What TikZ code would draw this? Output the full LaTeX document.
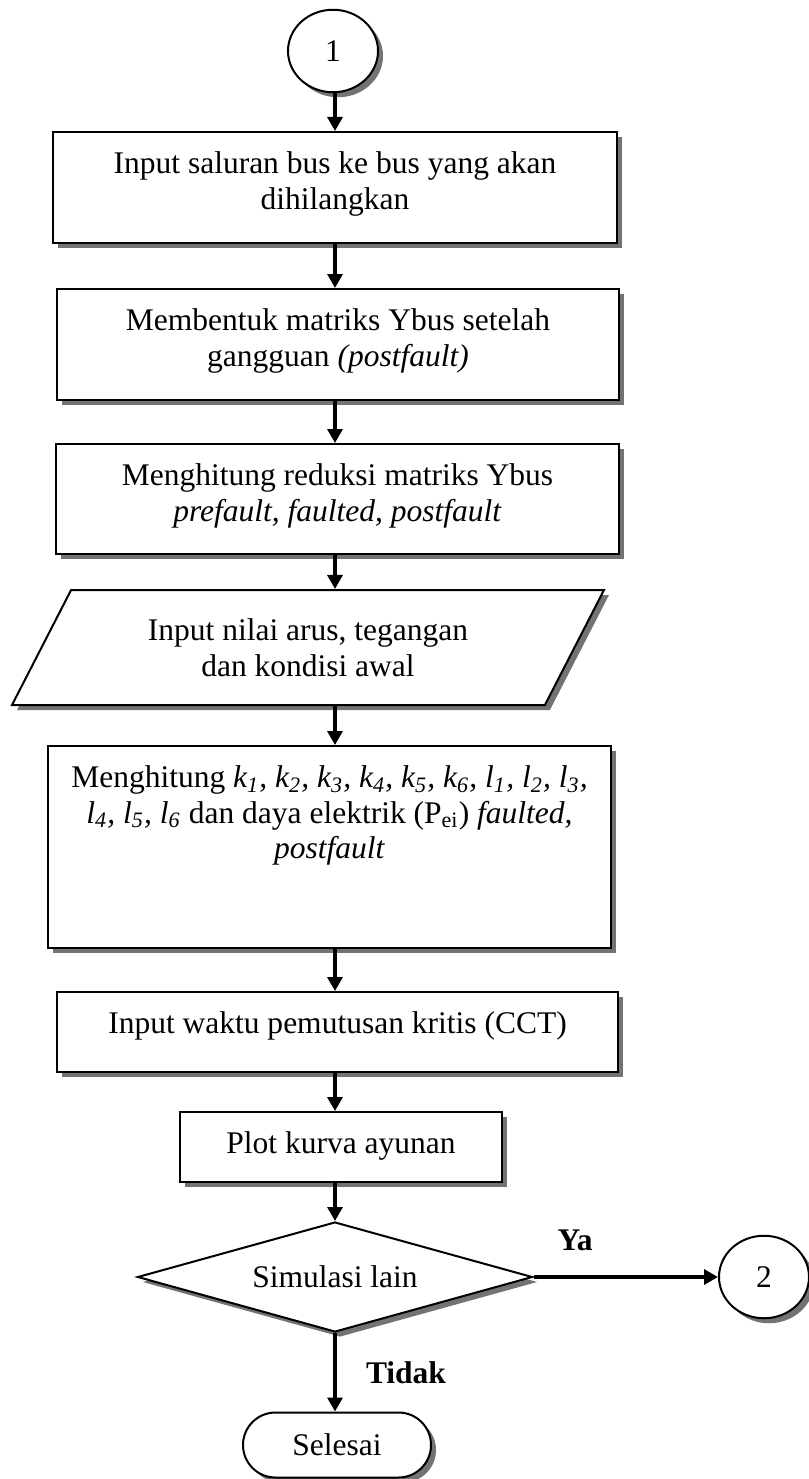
\documentclass[tikz,border=0pt]{standalone}
\usepackage{fontspec}
\setmainfont{Liberation Serif}
\usetikzlibrary{shapes.geometric, shapes.misc, shadows, arrows.meta}
\lineskiplimit=-\maxdimen

\newcommand{\toptext}[3]{\parbox[c][#2][t]{#1}{\centering\vspace*{8pt}#3}}

\tikzset{
	grayshadow/.style={drop shadow={shadow xshift=2pt, shadow yshift=-2pt, fill=black!55, opacity=1}},
	block/.style={draw, line width=0.8pt, fill=white, grayshadow, inner sep=0pt},
	conn/.style={block, ellipse, minimum width=36pt, minimum height=33pt},
	io/.style={block, trapezium, trapezium left angle=44.3, trapezium right angle=135.7, trapezium stretches body, minimum width=236.8pt, minimum height=46pt, align=center},
	decision/.style={block, diamond, aspect=3.6, minimum width=158pt, minimum height=44pt},
	stop/.style={block, rounded rectangle, minimum width=75.2pt, minimum height=26pt},
	lbl/.style={font=\fontsize{12.6}{14.2}\selectfont\bfseries},
	arr/.style={line width=1.3pt, -{Triangle[length=5.6pt, width=6pt]}},
}

\begin{document}
\begin{tikzpicture}[x=0.4pt, y=-0.4pt, font=\fontsize{12.6}{14.2}\selectfont]
	\useasboundingbox (0,0) rectangle (808,1479);
	\coordinate (axis) at (335,0);
	
	\node[conn] (start) at (333,51) {1};
	\node[block] (cut) at (335,187.5) {\toptext{225.2pt}{44.4pt}{Input saluran bus ke bus yang akan\\dihilangkan}};
	\node[block] (ybus) at (338,344.5) {\toptext{224.8pt}{44.4pt}{Membentuk matriks Ybus setelah\\gangguan \textit{(postfault)}}};
	\node[block] (reduce) at (337.5,499) {\toptext{225.2pt}{44pt}{Menghitung reduksi matriks Ybus\\\textit{prefault, faulted, postfault}}};
	\node[io] (init) at (308,647.5) {Input nilai arus, tegangan\\dan kondisi awal};
	\node[block] (rk) at (329.5,847) {\toptext{225.2pt}{80.8pt}{Menghitung \textit{k\textsubscript{1}, k\textsubscript{2}, k\textsubscript{3}, k\textsubscript{4}, k\textsubscript{5}, k\textsubscript{6}, l\textsubscript{1}, l\textsubscript{2}, l\textsubscript{3},}\\\textit{l\textsubscript{4}, l\textsubscript{5}, l\textsubscript{6}} dan daya elektrik (P\textsubscript{ei}) \textit{faulted,}\\\textit{postfault}}};
	\node[block] (cct) at (337.5,1032) {\toptext{224.4pt}{32pt}{Input waktu pemutusan kritis (CCT)}};
	\node[block] (plot) at (341,1147) {\toptext{128.8pt}{28pt}{Plot kurva ayunan}};
	\node[decision] (again) at (335,1277) {Simulasi lain};
	\node[conn] (next) at (764,1277) {2};
	\node[stop] (finish) at (337,1445) {Selesai};
	
	\node[lbl] (ya) at (575,1240) {Ya};
	\node[lbl] (tidak) at (406,1373) {Tidak};
	
	% alur utama
	\draw[arr] (start.south -| axis) -- (cut.north -| axis);
	\draw[arr] (cut.south -| axis) -- (ybus.north -| axis);
	\draw[arr] (ybus.south -| axis) -- (reduce.north -| axis);
	\draw[arr] (reduce.south -| axis) -- (init.north -| axis);
	\draw[arr] (init.south -| axis) -- (rk.north -| axis);
	\draw[arr] (rk.south -| axis) -- (cct.north -| axis);
	\draw[arr] (cct.south -| axis) -- (plot.north -| axis);
	\draw[arr] (plot.south -| axis) -- (again.north);
	\draw[arr] (again.east) -- (next.west);
	\draw[arr] (again.south) -- (again.south |- finish.north);
\end{tikzpicture}
\end{document}
